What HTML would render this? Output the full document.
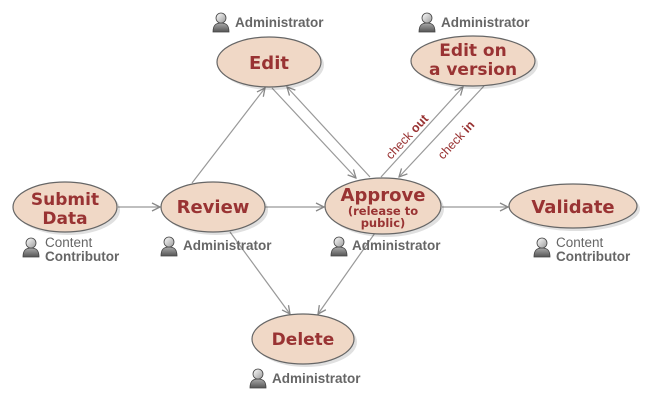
<!DOCTYPE html>
<html><head><meta charset="utf-8"><style>
html,body{margin:0;padding:0;background:#fff;}
svg{display:block;}
.t{font-family:"DejaVu Sans",sans-serif;font-weight:bold;fill:#993333;text-anchor:middle;}
.a{font-family:"Liberation Sans",sans-serif;font-weight:bold;fill:#666;font-size:13.5px;}
.c{font-family:"Liberation Sans",sans-serif;fill:#666;font-size:13.5px;}
.l{stroke:#999;stroke-width:1.2;fill:none;}
.e{fill:#f0d8c6;stroke:#666;stroke-width:1.2;}
.s{fill:#000;opacity:0.12;}
</style></head><body>
<svg width="650" height="400" viewBox="0 0 650 400" xmlns="http://www.w3.org/2000/svg">
<defs>
<marker id="ar" markerWidth="10" markerHeight="10" refX="9" refY="5" orient="auto" markerUnits="userSpaceOnUse">
<path d="M1,1 L9,5 L1,9" fill="none" stroke="#888" stroke-width="1.3"/>
</marker>
<linearGradient id="hg" x1="0" y1="0" x2="1" y2="1"><stop offset="0" stop-color="#fff"/><stop offset="1" stop-color="#999"/></linearGradient>
<linearGradient id="bg" x1="0" y1="0" x2="0" y2="1"><stop offset="0" stop-color="#aaa"/><stop offset="1" stop-color="#555"/></linearGradient>
<g id="u">
<path d="M1,20 C1,13 4,11 9,11 C14,11 17,13 17,20 Z" fill="url(#bg)" stroke="#444" stroke-width="0.8"/>
<circle cx="9" cy="6" r="5" fill="url(#hg)" stroke="#444" stroke-width="0.8"/>
</g>
</defs>

<line class="l" x1="118" y1="207" x2="160" y2="207" marker-end="url(#ar)"/>
<line class="l" x1="192" y1="183" x2="265" y2="88" marker-end="url(#ar)"/>
<line class="l" x1="272" y1="88" x2="356" y2="178" marker-end="url(#ar)"/>
<line class="l" x1="370" y1="177" x2="287" y2="87" marker-end="url(#ar)"/>
<line class="l" x1="265" y1="207" x2="324" y2="207" marker-end="url(#ar)"/>
<line class="l" x1="381" y1="177" x2="463" y2="87" marker-end="url(#ar)"/>
<line class="l" x1="484" y1="86" x2="399" y2="177" marker-end="url(#ar)"/>
<line class="l" x1="442" y1="207" x2="508" y2="207" marker-end="url(#ar)"/>
<line class="l" x1="230" y1="232" x2="290" y2="314" marker-end="url(#ar)"/>
<line class="l" x1="375" y1="233" x2="318" y2="314" marker-end="url(#ar)"/>

<text class="c" style="fill:#993333;font-size:12.5px" transform="translate(391,160) rotate(-47)">check <tspan font-weight="bold">out</tspan></text>
<text class="c" style="fill:#993333;font-size:12.5px" transform="translate(443,160) rotate(-47)">check <tspan font-weight="bold">in</tspan></text>

<ellipse class="s" cx="272" cy="65" rx="52" ry="25"/>
<ellipse class="s" cx="476" cy="64" rx="62" ry="25"/>
<ellipse class="s" cx="68" cy="210" rx="52" ry="25"/>
<ellipse class="s" cx="216" cy="210" rx="52" ry="25"/>
<ellipse class="s" cx="386" cy="209" rx="58" ry="28"/>
<ellipse class="s" cx="576" cy="209" rx="64" ry="22"/>
<ellipse class="s" cx="306" cy="342" rx="51" ry="25"/>

<ellipse class="e" cx="269" cy="62" rx="52" ry="25"/>
<ellipse class="e" cx="473" cy="61" rx="62" ry="25"/>
<ellipse class="e" cx="65" cy="207" rx="52" ry="25"/>
<ellipse class="e" cx="213" cy="207" rx="52" ry="25"/>
<ellipse class="e" cx="383" cy="206" rx="58" ry="28"/>
<ellipse class="e" cx="573" cy="206" rx="64" ry="22"/>
<ellipse class="e" cx="303" cy="339" rx="51" ry="25"/>

<text class="t" x="269" y="69" font-size="18">Edit</text>
<text class="t" x="473" y="56" font-size="17">Edit on</text>
<text class="t" x="473" y="75" font-size="17">a version</text>
<text class="t" x="65" y="205" font-size="17">Submit</text>
<text class="t" x="65" y="224" font-size="17">Data</text>
<text class="t" x="213" y="213" font-size="18">Review</text>
<text class="t" x="383" y="201" font-size="18">Approve</text>
<text class="t" x="383" y="215" font-size="11.5">(release to</text>
<text class="t" x="383" y="227" font-size="11.5">public)</text>
<text class="t" x="573" y="213" font-size="18">Validate</text>
<text class="t" x="303" y="345" font-size="17">Delete</text>

<use href="#u" x="212" y="12"/><text class="a" x="235" y="27">Administrator</text>
<use href="#u" x="418" y="12"/><text class="a" x="441" y="27">Administrator</text>
<use href="#u" x="160" y="236"/><text class="a" x="183" y="250">Administrator</text>
<use href="#u" x="330" y="236"/><text class="a" x="352" y="250">Administrator</text>
<use href="#u" x="249" y="368"/><text class="a" x="272" y="383">Administrator</text>
<use href="#u" x="22" y="237"/><text class="c" x="45" y="247">Content</text><text class="a" x="45" y="261">Contributor</text>
<use href="#u" x="533" y="237"/><text class="c" x="556" y="247">Content</text><text class="a" x="556" y="261">Contributor</text>
</svg>
</body></html>
